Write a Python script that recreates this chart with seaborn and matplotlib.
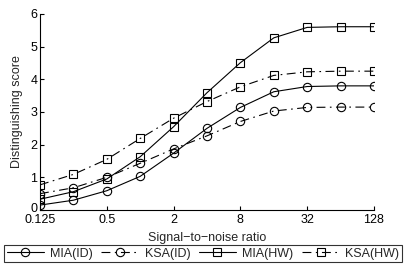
import matplotlib
matplotlib.use("Agg")
import matplotlib.pyplot as plt
import matplotlib.transforms as mtransforms
import seaborn as sns
import pandas as pd

snr = [0.125, 0.25, 0.5, 1, 2, 4, 8, 16, 32, 64, 128]
mia_id = [0.15, 0.30, 0.59, 1.03, 1.74, 2.50, 3.14, 3.62, 3.78, 3.80, 3.80]
ksa_id = [0.50, 0.68, 1.00, 1.43, 1.87, 2.27, 2.71, 3.03, 3.14, 3.15, 3.15]
mia_hw = [0.33, 0.56, 0.95, 1.63, 2.55, 3.59, 4.51, 5.27, 5.59, 5.61, 5.61]
ksa_hw = [0.77, 1.09, 1.55, 2.19, 2.81, 3.32, 3.77, 4.12, 4.23, 4.25, 4.25]

series_names = ["MIA(ID)", "KSA(ID)", "MIA(HW)", "KSA(HW)"]
x_ticks = [0.125, 0.5, 2, 8, 32, 128]
x_tick_labels = ["0.125", "0.5", "2", "8", "32", "128"]
y_ticks = [0, 1, 2, 3, 4, 5, 6]

sns.set_style("ticks")
plt.rcParams["font.family"] = ["Liberation Sans", "DejaVu Sans"]
plt.rcParams["font.size"] = 9

df = pd.DataFrame({"snr": snr, "MIA(ID)": mia_id, "KSA(ID)": ksa_id,
                   "MIA(HW)": mia_hw, "KSA(HW)": ksa_hw})

dashdot = (0, (8, 4, 1.5, 4))
styles = {
    "MIA(ID)": ("o", "-"),
    "KSA(ID)": ("o", dashdot),
    "MIA(HW)": ("s", "-"),
    "KSA(HW)": ("s", dashdot),
}

fig = plt.figure(figsize=(4.04, 2.65), dpi=100)
ax = fig.add_axes([40 / 404, 1 - 210 / 265, 334 / 404, 196 / 265])

for name in series_names:
    marker, ls = styles[name]
    sns.lineplot(data=df, x="snr", y=name, ax=ax, color="black",
                 linestyle=ls, linewidth=0.8, marker=marker, markersize=6,
                 markerfacecolor="none", markeredgecolor="black",
                 markeredgewidth=0.8, label=name, legend=False)

ax.set_xscale("log", base=2)
ax.set_xlim(0.125, 128)
ax.set_ylim(0, 6)
ax.set_xticks(x_ticks)
ax.set_xticklabels(x_tick_labels)
ax.minorticks_off()
ax.set_yticks(y_ticks)
ax.tick_params(direction="in", length=3, width=0.8, labelsize=9,
               colors="black")
ax.tick_params(axis="x", pad=3)
ax.tick_params(axis="y", pad=2)
for s in ["top", "right"]:
    ax.spines[s].set_visible(False)
for s in ["left", "bottom"]:
    ax.spines[s].set_linewidth(0.8)
    ax.spines[s].set_color("black")

# lift the "0" label a little so it clears "0.125"
zero_lbl = ax.get_yticklabels()[0]
zero_lbl.set_transform(zero_lbl.get_transform() +
                       mtransforms.ScaledTranslation(0, 3 / 100, fig.dpi_scale_trans))

ax.set_xlabel("Signal\u2212to\u2212noise ratio", fontsize=9, labelpad=4)
ax.set_ylabel("Distinguishing score", fontsize=9, labelpad=5)

handles, labels = ax.get_legend_handles_labels()
leg = fig.legend(handles, labels, loc="upper left", ncol=4,
                 bbox_to_anchor=(4 / 404, 1 - 245 / 265, 398 / 404, 0),
                 mode="expand", frameon=True, fancybox=False,
                 edgecolor="black", fontsize=9, handlelength=3.0,
                 handletextpad=0.5, borderpad=0.2, borderaxespad=0)
leg.get_frame().set_linewidth(0.8)

fig.savefig("out.png", dpi=100)
